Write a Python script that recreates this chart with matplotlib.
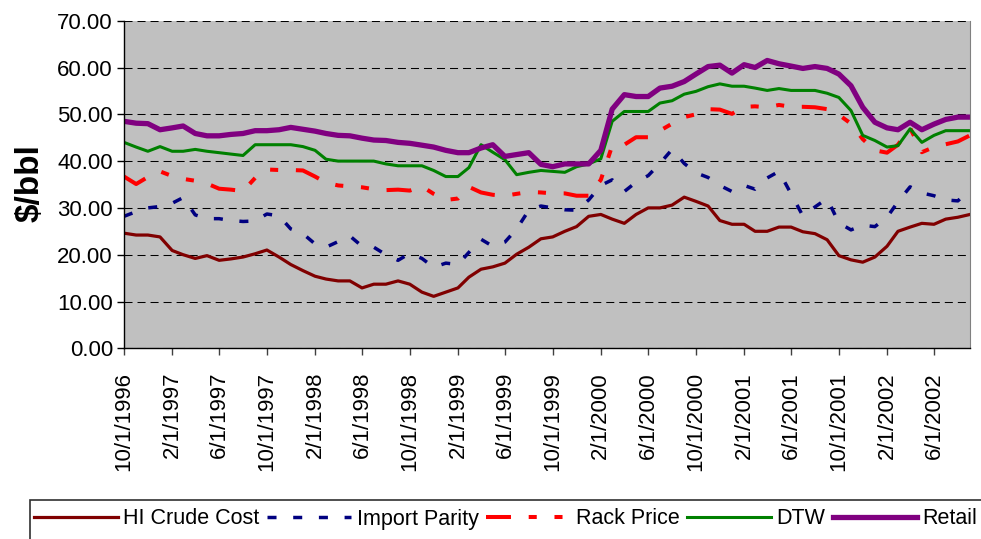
import numpy as np
import pandas as pd
import matplotlib
matplotlib.use("Agg")
from matplotlib import pyplot as plt
import matplotlib.dates as mdates
from matplotlib.patches import Rectangle
from matplotlib.ticker import FuncFormatter, MultipleLocator

# monthly observations, 10/1996 .. 9/2002
months = pd.date_range("1996-10-01", periods=72, freq="MS")

crude = [24.6, 24.2, 24.2, 23.8, 20.9, 20.0, 19.2, 19.8, 18.8, 19.1, 19.5, 20.2,
         21.0, 19.5, 17.9, 16.6, 15.4, 14.8, 14.4, 14.4, 12.9, 13.7, 13.7, 14.4,
         13.7, 12.0, 11.1, 12.0, 12.9, 15.2, 16.9, 17.4, 18.2, 20.1, 21.6, 23.4,
         23.8, 25.0, 26.0, 28.2, 28.6, 27.6, 26.7, 28.6, 30.0, 30.0, 30.6, 32.3,
         31.4, 30.4, 27.3, 26.5, 26.5, 25.0, 25.0, 25.9, 25.9, 24.9, 24.5, 23.2,
         19.8, 18.9, 18.4, 19.5, 21.8, 25.0, 25.9, 26.7, 26.5, 27.6, 28.0, 28.6]

import_parity = [28.2, 29.2, 30.0, 30.3, 31.0, 32.2, 28.5, 27.7, 27.7, 27.3, 27.1, 27.2,
                 28.7, 28.3, 25.5, 24.5, 22.3, 21.6, 22.8, 24.0, 21.8, 21.6, 20.0, 18.8,
                 20.3, 19.2, 17.3, 18.2, 17.9, 20.5, 23.3, 21.8, 22.7, 25.5, 29.5, 30.4,
                 30.0, 29.6, 29.5, 31.7, 34.8, 36.0, 33.5, 35.5, 36.9, 39.5, 42.5, 39.5,
                 37.5, 36.5, 34.8, 33.5, 34.8, 34.0, 36.4, 37.8, 33.0, 28.3, 30.2, 32.0,
                 26.8, 25.3, 26.3, 26.0, 28.0, 31.3, 34.5, 33.2, 32.6, 31.7, 31.5, 34.0]

rack = [36.7, 35.1, 36.6, 37.8, 36.8, 36.2, 35.8, 35.2, 34.1, 33.9, 33.6, 36.4,
        38.2, 38.1, 38.1, 38.0, 36.7, 35.4, 34.8, 34.6, 34.4, 34.0, 33.8, 33.9,
        33.7, 34.6, 33.0, 31.7, 32.0, 34.5, 33.3, 32.8, 32.6, 33.0, 33.4, 33.3,
        33.1, 33.1, 32.6, 32.6, 36.0, 43.3, 43.5, 45.1, 45.1, 46.5, 48.0, 49.4,
        50.0, 51.1, 51.0, 50.1, 51.6, 51.7, 51.5, 52.0, 51.6, 51.6, 51.5, 51.1,
        49.9, 48.0, 44.7, 42.3, 41.8, 43.5, 47.1, 41.9, 43.0, 43.6, 44.2, 45.5]

dtw = [44.0, 43.0, 42.1, 43.1, 42.1, 42.1, 42.5, 42.1, 41.8, 41.5, 41.2, 43.5,
       43.5, 43.5, 43.5, 43.1, 42.3, 40.4, 40.0, 40.0, 40.0, 40.0, 39.4, 39.0,
       39.0, 39.0, 38.0, 36.7, 36.7, 38.6, 43.5, 41.9, 40.3, 37.1, 37.6, 38.0,
       37.8, 37.6, 38.8, 39.4, 40.5, 48.5, 50.6, 50.6, 50.6, 52.4, 52.9, 54.3,
       54.9, 55.9, 56.5, 56.0, 56.0, 55.6, 55.1, 55.5, 55.1, 55.1, 55.1, 54.5,
       53.6, 50.8, 45.5, 44.4, 43.0, 43.3, 46.9, 44.0, 45.5, 46.5, 46.5, 46.5]

retail = [48.5, 48.1, 48.0, 46.7, 47.1, 47.5, 45.9, 45.4, 45.4, 45.7, 45.9, 46.5,
          46.5, 46.7, 47.2, 46.8, 46.4, 45.9, 45.5, 45.4, 44.9, 44.5, 44.4, 44.0,
          43.8, 43.4, 43.0, 42.3, 41.8, 41.8, 42.8, 43.5, 41.0, 41.4, 41.8, 39.3,
          38.8, 39.4, 39.4, 39.4, 42.3, 51.1, 54.2, 53.8, 53.8, 55.6, 56.0, 57.0,
          58.6, 60.2, 60.5, 58.8, 60.6, 60.0, 61.5, 60.8, 60.3, 59.8, 60.2, 59.8,
          58.6, 56.1, 51.5, 48.3, 47.1, 46.7, 48.3, 46.7, 47.9, 48.9, 49.4, 49.4]

plt.rcParams['font.family'] = ['Liberation Sans', 'DejaVu Sans']

W, H = 981, 539
fig = plt.figure(figsize=(W / 100, H / 100), dpi=100)
ax = fig.add_axes([124 / W, 1 - 348.3 / H, (970 - 124) / W, (348.3 - 20.7) / H])
ax.set_facecolor('#C0C0C0')

ax.plot(months, crude, color='#800000', lw=2.3, label='HI Crude Cost')
ax.plot(months, import_parity, color='#000080', lw=2.5, dashes=(2.6, 4.8), label='Import Parity')
ax.plot(months, rack, color='#FF0000', lw=2.9, dashes=(6.2, 4.4, 2.0, 4.4, 2.0, 4.4), label='Rack Price')
ax.plot(months, dtw, color='#008000', lw=2.2, label='DTW')
ax.plot(months, retail, color='#800080', lw=3.8, label='Retail')

ax.set_ylim(0, 70)
ax.set_xlim(months[0], months[-1])
ax.yaxis.set_major_locator(MultipleLocator(10))
ax.yaxis.set_major_formatter(FuncFormatter(lambda v, p: f"{v:.2f}"))
ax.yaxis.grid(True, color='black', lw=0.75, linestyle=(0, (7.7, 4.8)))
ax.set_axisbelow(True)

ax.xaxis.set_major_locator(mdates.MonthLocator(bymonth=[2, 6, 10]))
def fmt_date(x, pos):
    d = mdates.num2date(x)
    return f"{d.month}/{d.day}/{d.year}"
ax.xaxis.set_major_formatter(FuncFormatter(fmt_date))

ax.tick_params(axis='y', direction='out', length=5, width=1, labelsize=16, pad=3)
ax.tick_params(axis='x', direction='out', length=5, width=1, labelsize=16, pad=12,
               labelrotation=90, color='#404040')

for s in ['left', 'bottom']:
    ax.spines[s].set_color('black')
    ax.spines[s].set_linewidth(1)
ax.spines['right'].set_color('#808080')
ax.spines['top'].set_visible(False)

fig.text(30 / W, 1 - 183 / H, '$/bbl', rotation=90, ha='center', va='center',
         fontsize=24, fontweight='bold')

# legend box runs off the bottom/right edges like the reference
fig.patches.append(Rectangle((30 / W, -0.1), 2, (1 - 500 / H) + 0.1, transform=fig.transFigure,
                             fill=False, edgecolor='#303030', lw=1.2))
fig.legend(loc='center left', bbox_to_anchor=(34 / W, 1 - 519 / H), ncol=5, frameon=False,
           fontsize=15.5, handlelength=3.9, handletextpad=0.25, columnspacing=0.36,
           borderaxespad=0, borderpad=0)

fig.savefig('out.png', dpi=100)
